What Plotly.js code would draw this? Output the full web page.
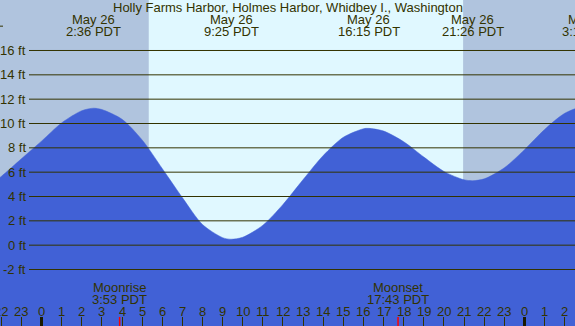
<!DOCTYPE html>
<html><head><meta charset="utf-8">
<script src="https://cdn.plot.ly/plotly-3.0.1.min.js"></script>
<style>html,body{margin:0;padding:0;overflow:hidden;background:#b0c4de}</style>
</head><body><div id="chart" style="width:575px;height:326px"></div>
<script>
// Tide heights (ft), hours from midnight May 26 (PDT)
const tideHours = [-3, -2, -1, 0, 1, 2, 2.6, 3, 4, 5, 6, 7, 8, 9, 9.42, 10, 11, 12, 13, 14, 15, 16, 16.25, 17, 18, 19, 20, 21, 21.43, 22, 23, 24, 25, 26, 27, 27.22, 28];
const tideFeet  = [4.4, 5.65, 7.1, 8.55, 10.05, 11.05, 11.26, 11.15, 10.35, 8.65, 6.3, 3.91, 1.7, 0.62, 0.49, 0.65, 1.64, 3.35, 5.39, 7.37, 8.87, 9.57, 9.6, 9.38, 8.5, 7.24, 6.06, 5.37, 5.3, 5.45, 6.36, 7.85, 9.51, 10.84, 11.48, 11.5, 11.4];

const extremeHours = [2.6, 9.4167, 16.25, 21.4333, 27.22];
const extremeDates = ["May 26", "May 26", "May 26", "May 26", "May 27"];
const extremeTimes = ["2:36 PDT", "9:25 PDT", "16:15 PDT", "21:26 PDT", "3:13 PDT"];

const daylightHours = [5.33, 20.95];

const moonHours = [3.883, 17.717];
const moonNames = ["Moonrise", "Moonset"];
const moonTimes = ["3:53 PDT", "17:43 PDT"];

const hourTicks = [-2,-1,0,1,2,3,4,5,6,7,8,9,10,11,12,13,14,15,16,17,18,19,20,21,22,23,24,25,26];
const hourLabels = ["22","23","0","1","2","3","4","5","6","7","8","9","10","11","12","13","14","15","16","17","18","19","20","21","22","23","0","1","2"];
const midnightHours = [0, 24];

const heightTicks = [-2, 0, 2, 4, 6, 8, 10, 12, 14, 16];
const heightLabels = ["-2 ft", "0 ft", "2 ft", "4 ft", "6 ft", "8 ft", "10 ft", "12 ft", "14 ft", "16 ft"];

const titleText = "Holly Farms Harbor, Holmes Harbor, Whidbey I., Washington";

const W = 575, H = 326;
const xRange = [-2.062, 26.51];
const yRange = [-6.643, 20.15];
const ink = "#333300";
const FONT = "Liberation Sans, Arial, sans-serif";
const FS = 13;

function xPaper(h) { return (h - xRange[0]) / (xRange[1] - xRange[0]); }

const traces = [
  { x: [tideHours[0], tideHours[tideHours.length - 1]], y: [-10, -10], mode: "lines",
    line: { width: 0 }, hoverinfo: "skip", showlegend: false },
  { x: tideHours, y: tideFeet, mode: "lines", fill: "tonexty", fillcolor: "#4161d6",
    line: { color: "#4161d6", width: 0.5, shape: "spline", smoothing: 0.8 },
    hoverinfo: "skip", showlegend: false }
];

const shapes = [
  { type: "rect", xref: "x", yref: "paper", x0: daylightHours[0], x1: daylightHours[1], y0: 0, y1: 1,
    fillcolor: "#e0f8ff", line: { width: 0 }, layer: "below" }
];
heightTicks.forEach(v => shapes.push({
  type: "line", xref: "paper", yref: "y", x0: 29 / W, x1: 1, y0: v, y1: v,
  line: { color: ink, width: 1 }, layer: "above" }));
shapes.push({ type: "line", xref: "paper", yref: "y", x0: 0, x1: 3 / W, y0: 18, y1: 18,
  line: { color: ink, width: 1 }, layer: "above" });
midnightHours.forEach(h => shapes.push({
  type: "line", xref: "x", yref: "paper", x0: h, x1: h, y0: 0, y1: 9 / H,
  line: { color: "#1a1a00", width: 3 }, layer: "above" }));
moonHours.forEach(h => shapes.push({
  type: "line", xref: "x", yref: "paper", x0: h, x1: h, y0: 0, y1: 9 / H,
  line: { color: "#ff0000", width: 1.5 }, layer: "above" }));

const annotations = [];
const txt = (o) => Object.assign({ showarrow: false, font: { family: FONT, size: FS, color: ink } }, o);
heightTicks.forEach((v, i) => annotations.push(txt({
  xref: "paper", yref: "y", x: 27.5 / W, y: v, xanchor: "right", yanchor: "middle", text: heightLabels[i] })));
annotations.push(txt({ xref: "paper", yref: "paper", x: 0.5, y: 1 - 7.3 / H, xanchor: "center", yanchor: "middle", text: titleText }));
extremeHours.forEach((h, i) => {
  annotations.push(txt({ xref: "paper", yref: "paper", x: xPaper(h), y: 1 - 19.3 / H, xanchor: "center", yanchor: "middle", text: extremeDates[i] }));
  annotations.push(txt({ xref: "paper", yref: "paper", x: xPaper(h), y: 1 - 31.7 / H, xanchor: "center", yanchor: "middle", text: extremeTimes[i] }));
});
moonHours.forEach((h, i) => {
  annotations.push(txt({ xref: "x", yref: "paper", x: h, y: 1 - 287.7 / H, xanchor: "center", yanchor: "middle", text: moonNames[i] }));
  annotations.push(txt({ xref: "x", yref: "paper", x: h, y: 1 - 299.2 / H, xanchor: "center", yanchor: "middle", text: moonTimes[i] }));
});
hourTicks.forEach((h, i) => annotations.push(txt({
  xref: "x", yref: "paper", x: h, y: 1 - 311 / H, xanchor: "center", yanchor: "middle", text: hourLabels[i] })));

const layout = {
  width: W, height: H, margin: { l: 0, r: 0, t: 0, b: 0, pad: 0 },
  paper_bgcolor: "#b0c4de", plot_bgcolor: "#b0c4de", showlegend: false,
  xaxis: { range: xRange, showgrid: false, zeroline: false, showline: false,
    tickmode: "array", tickvals: hourTicks, ticktext: hourLabels, showticklabels: false,
    ticks: "inside", ticklen: 9, tickwidth: 1, tickcolor: ink,
    layer: "above traces", fixedrange: true },
  yaxis: { range: yRange, showgrid: false, zeroline: false, showline: false,
    showticklabels: false, ticks: "", fixedrange: true },
  shapes: shapes, annotations: annotations
};

Plotly.newPlot("chart", traces, layout, { staticPlot: true, displayModeBar: false });
</script></body></html>
